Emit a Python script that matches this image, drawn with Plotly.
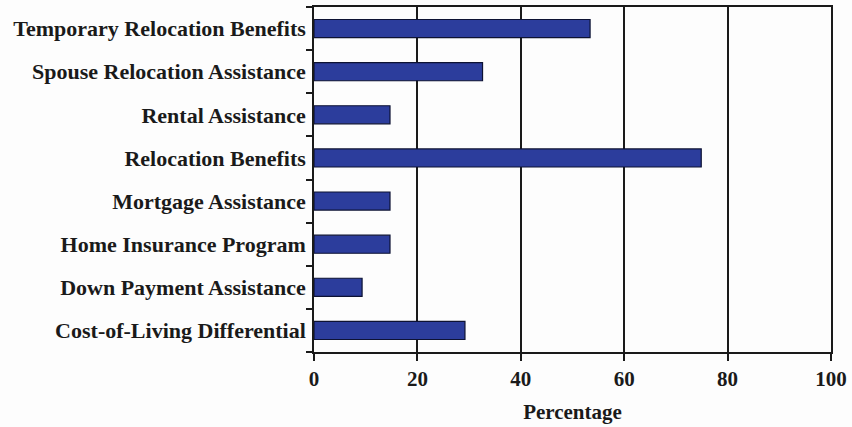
import plotly.graph_objects as go

# Share of organisations offering each relocation benefit
categories = [
    "Temporary Relocation Benefits",
    "Spouse Relocation Assistance",
    "Rental Assistance",
    "Relocation Benefits",
    "Mortgage Assistance",
    "Home Insurance Program",
    "Down Payment Assistance",
    "Cost-of-Living Differential",
]
percentages = [53.4, 32.6, 14.7, 74.9, 14.7, 14.7, 9.3, 29.2]
x_ticks = [0, 20, 40, 60, 80, 100]

FONT = "Liberation Serif, Times New Roman, serif"
INK = "#1a1a1a"

fig = go.Figure(
    go.Bar(
        x=percentages,
        y=categories,
        orientation="h",
        width=0.42,
        marker=dict(color="#2c3d9c", line=dict(color="#0d1233", width=1.2)),
    )
)

fig.update_layout(
    width=852,
    height=427,
    margin=dict(l=314, r=21, t=5, b=75),
    paper_bgcolor="#fdfdfd",
    plot_bgcolor="#fdfdfd",
    showlegend=False,
    font=dict(family=FONT, size=21, color=INK),
)

fig.update_xaxes(
    range=[0, 100],
    tickvals=x_ticks,
    ticktext=[str(v) for v in x_ticks],
    tickfont=dict(family=FONT, size=21, color=INK, weight="bold"),
    ticks="outside",
    ticklen=7,
    tickwidth=1.5,
    tickcolor=INK,
    showline=True,
    linecolor=INK,
    linewidth=1.5,
    mirror=True,
    showgrid=True,
    gridcolor=INK,
    gridwidth=1.5,
    zeroline=False,
    title=dict(
        text="<b>Percentage</b>",
        font=dict(family=FONT, size=21, color=INK),
        standoff=14,
    ),
)

fig.update_yaxes(
    categoryorder="array",
    categoryarray=categories[::-1],
    tickson="boundaries",
    ticks="outside",
    ticklen=6,
    tickwidth=1.5,
    tickcolor=INK,
    tickfont=dict(family=FONT, size=22, color=INK, weight="bold"),
    ticklabelstandoff=2,
    showline=True,
    linecolor=INK,
    linewidth=1.5,
    mirror=True,
    showgrid=False,
    zeroline=False,
)

fig.write_html("out.html")
